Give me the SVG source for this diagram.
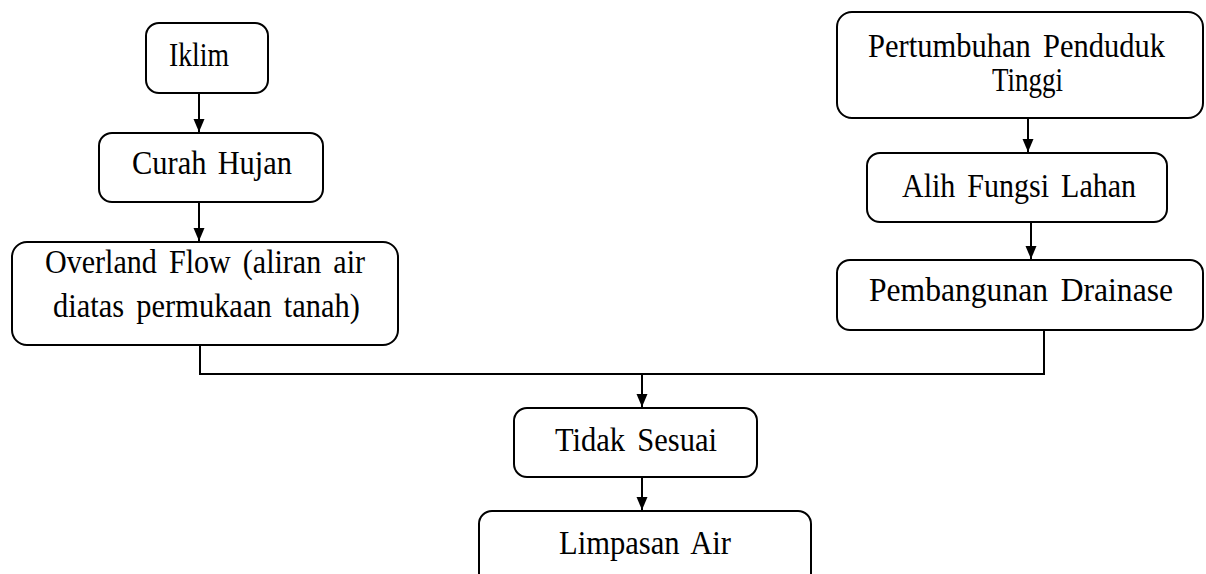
<svg xmlns="http://www.w3.org/2000/svg" width="1206" height="574" viewBox="0 0 1206 574">
<style>
.box{fill:#fff;stroke:#000;stroke-width:2}
.t{font-family:"Liberation Serif","Times New Roman",serif;font-size:33px;fill:#000}
.c{fill:none;stroke:#000;stroke-width:2}
</style>
<defs>
<marker id="ah" markerUnits="userSpaceOnUse" markerWidth="14" markerHeight="14" viewBox="0 0 14 14" refX="13" refY="7" orient="auto">
<path d="M0,1.5 L13,7 L0,12.5 Z" fill="#000"/>
</marker>
</defs>
<rect width="1206" height="574" fill="#fff"/>
<g id="connectors">
<line class="c" x1="199" y1="93" x2="199" y2="132" marker-end="url(#ah)"/>
<line class="c" x1="199" y1="202" x2="199" y2="241" marker-end="url(#ah)"/>
<line class="c" x1="1028" y1="118" x2="1028" y2="152" marker-end="url(#ah)"/>
<line class="c" x1="1031" y1="222" x2="1031" y2="259" marker-end="url(#ah)"/>
<path class="c" d="M200,345 V374 H1044 V330"/>
<line class="c" x1="642" y1="374" x2="642" y2="407" marker-end="url(#ah)"/>
<line class="c" x1="642" y1="477" x2="642" y2="510" marker-end="url(#ah)"/>
</g>
<g id="iklim">
<rect class="box" x="146" y="23" width="122" height="70" rx="13"/>
<text class="t" x="169" y="66" textLength="60" lengthAdjust="spacingAndGlyphs">Iklim</text>
</g>
<g id="curah-hujan">
<rect class="box" x="99" y="133" width="224" height="69" rx="13"/>
<text class="t" x="132" y="174" textLength="160" lengthAdjust="spacingAndGlyphs" word-spacing="4">Curah Hujan</text>
</g>
<g id="overland-flow">
<rect class="box" x="12" y="242" width="386" height="103" rx="15"/>
<text class="t" x="45" y="273" textLength="320" lengthAdjust="spacingAndGlyphs" word-spacing="5">Overland Flow (aliran air</text>
<text class="t" x="53" y="317" textLength="307" lengthAdjust="spacingAndGlyphs" word-spacing="5">diatas permukaan tanah)</text>
</g>
<g id="pertumbuhan">
<rect class="box" x="837" y="12" width="366" height="106" rx="15"/>
<text class="t" x="868" y="57" textLength="297" lengthAdjust="spacingAndGlyphs" word-spacing="5">Pertumbuhan Penduduk</text>
<text class="t" x="992" y="91" textLength="71" lengthAdjust="spacingAndGlyphs">Tinggi</text>
</g>
<g id="alih-fungsi">
<rect class="box" x="867" y="153" width="300" height="69" rx="13"/>
<text class="t" x="902" y="197" textLength="234" lengthAdjust="spacingAndGlyphs" word-spacing="5">Alih Fungsi Lahan</text>
</g>
<g id="pembangunan">
<rect class="box" x="837" y="260" width="366" height="70" rx="13"/>
<text class="t" x="869" y="301" textLength="304" lengthAdjust="spacingAndGlyphs" word-spacing="5">Pembangunan Drainase</text>
</g>
<g id="tidak-sesuai">
<rect class="box" x="514" y="408" width="243" height="69" rx="13"/>
<text class="t" x="555" y="451" textLength="162" lengthAdjust="spacingAndGlyphs" word-spacing="5">Tidak Sesuai</text>
</g>
<g id="limpasan-air">
<rect class="box" x="479" y="511" width="332" height="100" rx="13"/>
<text class="t" x="559" y="554" textLength="172" lengthAdjust="spacingAndGlyphs" word-spacing="5">Limpasan Air</text>
</g>
</svg>
